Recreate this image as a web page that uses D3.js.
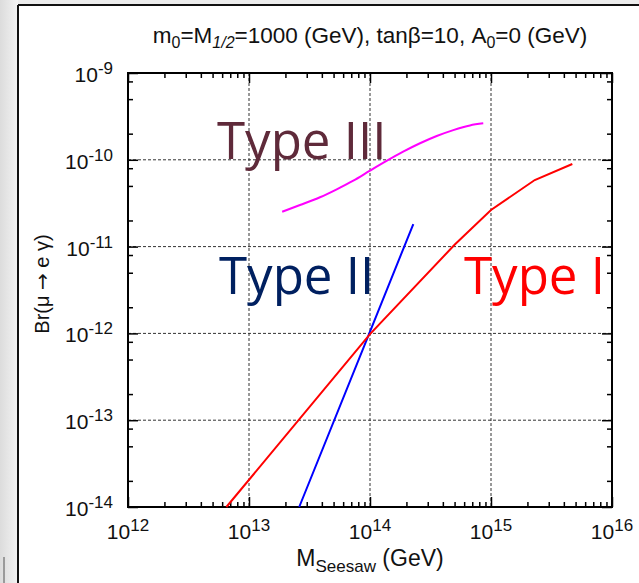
<!DOCTYPE html>
<html>
<head>
<meta charset="utf-8">
<script src="https://cdn.jsdelivr.net/npm/d3@7"></script>
<style>
  html, body { margin: 0; padding: 0; background: #fff; }
  svg { display: block; }
</style>
</head>
<body>
<div id="chart"></div>
<script>
// data (x in GeV, y = branching ratio)
const typeIX = [6.5e12, 1e14, 5e14, 1e15, 2.3e15, 4.7e15];
const typeIY = [1e-14, 9.8e-13, 1.05e-11, 2.64e-11, 5.85e-11, 8.95e-11];

const typeIIX = [2.6e13, 1e14, 2.28e14];
const typeIIY = [1e-14, 1.05e-12, 1.82e-11];

const typeIIIX = [1.88e13, 2.64e13, 3.86e13, 5.31e13, 7.28e13, 1e14, 1.37e14, 1.88e14, 2.59e14, 3.56e14, 4.88e14, 6.7e14, 8.63e14];
const typeIIIY = [2.52e-11, 3.01e-11, 3.7e-11, 4.57e-11, 5.75e-11, 7.5e-11, 9.7e-11, 1.24e-10, 1.55e-10, 1.88e-10, 2.2e-10, 2.49e-10, 2.63e-10];

const xTickExps = [12, 13, 14, 15, 16];
const yTickExps = [-9, -10, -11, -12, -13, -14];
const xMinorMult = [2, 3, 4, 5, 6, 7, 8, 9];
const yMinorMult = [2, 5, 8];

const W = 639, H = 583;
const pL = 128, pR = 612, pT = 73, pB = 507;

const svg = d3.select('#chart').append('svg')
    .attr('width', W)
    .attr('height', H)
    .style('font-family', '"Liberation Sans", Arial, sans-serif');

// slide-ish background frame
const bg = svg.append('defs').append('linearGradient').attr('id', 'side');
bg.append('stop').attr('offset', '0%').attr('stop-color', '#dcdcdc');
bg.append('stop').attr('offset', '100%').attr('stop-color', '#f3f3f3');
svg.append('rect').attr('width', W).attr('height', H).attr('fill', '#ececec');
svg.append('rect').attr('width', 18).attr('height', H).attr('fill', 'url(#side)');
svg.append('rect').attr('x', 18).attr('y', 5).attr('width', W - 18).attr('height', H - 5).attr('fill', '#fff');
svg.append('line').attr('x1', 18).attr('x2', W).attr('y1', 5).attr('y2', 5).attr('stroke', '#111').attr('stroke-width', 2);
svg.append('line').attr('x1', 18).attr('x2', 18).attr('y1', 5).attr('y2', H).attr('stroke', '#111').attr('stroke-width', 2);
svg.append('line').attr('x1', 4).attr('x2', 4).attr('y1', 557).attr('y2', H).attr('stroke', '#555').attr('stroke-width', 1);

const x = d3.scaleLog().domain([1e12, 1e16]).range([pL, pR]);
const y = d3.scaleLog().domain([1e-14, 1e-9]).range([pB, pT]);

const xMajor = xTickExps.map(e => Math.pow(10, e));
const yMajor = yTickExps.map(e => Math.pow(10, e));
const xMinor = [];
xTickExps.slice(0, -1).forEach(e => xMinorMult.forEach(m => xMinor.push(m * Math.pow(10, e))));
const yMinor = [];
yTickExps.slice(1).forEach(e => yMinorMult.forEach(m => yMinor.push(m * Math.pow(10, e))));

// grid
const grid = svg.append('g')
    .attr('stroke', '#333')
    .attr('stroke-width', 1)
    .attr('stroke-dasharray', '3,2');
grid.selectAll('.gx')
    .data(xMajor.slice(1, -1))
    .enter().append('line')
    .attr('x1', d => x(d)).attr('x2', d => x(d))
    .attr('y1', pT).attr('y2', pB);
grid.selectAll('.gy')
    .data(yMajor.slice(1, -1))
    .enter().append('line')
    .attr('x1', pL).attr('x2', pR)
    .attr('y1', d => y(d)).attr('y2', d => y(d));

// ticks on all four sides, pointing inward
function ticks(axis, vals, size, tr) {
  const g = svg.append('g')
      .attr('transform', tr)
      .call(axis.tickValues(vals).tickSize(-size).tickSizeOuter(0).tickFormat(''));
  g.select('.domain').remove();
  g.selectAll('line').attr('stroke', '#000').attr('stroke-width', 1.5);
}
ticks(d3.axisBottom(x), xMajor, 10, `translate(0,${pB})`);
ticks(d3.axisBottom(x), xMinor, 5, `translate(0,${pB})`);
ticks(d3.axisTop(x), xMajor, 10, `translate(0,${pT})`);
ticks(d3.axisTop(x), xMinor, 5, `translate(0,${pT})`);
ticks(d3.axisLeft(y), yMajor, 10, `translate(${pL},0)`);
ticks(d3.axisLeft(y), yMinor, 5, `translate(${pL},0)`);
ticks(d3.axisRight(y), yMajor, 10, `translate(${pR},0)`);
ticks(d3.axisRight(y), yMinor, 5, `translate(${pR},0)`);

svg.append('rect')
    .attr('x', pL).attr('y', pT)
    .attr('width', pR - pL).attr('height', pB - pT)
    .attr('fill', 'none').attr('stroke', '#000').attr('stroke-width', 2);

// tick labels 10^n
const xl = svg.selectAll('.xl')
    .data(xTickExps)
    .enter().append('text')
    .attr('x', d => x(Math.pow(10, d)))
    .attr('y', pB + 32)
    .attr('text-anchor', 'middle')
    .style('font-size', '21px')
    .attr('fill', '#111');
xl.append('tspan').text('10');
xl.append('tspan').attr('dy', -8).style('font-size', '17px').text(d => d);

const yl = svg.selectAll('.yl')
    .data(yTickExps)
    .enter().append('text')
    .attr('x', 113)
    .attr('y', d => y(Math.pow(10, d)) + 9)
    .attr('text-anchor', 'end')
    .style('font-size', '21px')
    .attr('fill', '#111');
yl.append('tspan').text('10');
yl.append('tspan').attr('dy', -8).style('font-size', '17px').text(d => d);

// title
const title = svg.append('text')
    .attr('x', (pL + pR) / 2)
    .attr('y', 43)
    .attr('text-anchor', 'middle')
    .style('font-size', '22.5px')
    .attr('fill', '#111');
title.append('tspan').text('m');
title.append('tspan').attr('dy', 5).style('font-size', '16px').text('0');
title.append('tspan').attr('dy', -5).text('=M');
title.append('tspan').attr('dy', 5).style('font-size', '16px').style('font-style', 'italic').text('1/2');
title.append('tspan').attr('dy', -5).text('=1000 (GeV), tanβ=10, A');
title.append('tspan').attr('dy', 5).style('font-size', '16px').text('0');
title.append('tspan').attr('dy', -5).text('=0 (GeV)');

// axis titles
const xt = svg.append('text')
    .attr('x', (pL + pR) / 2)
    .attr('y', 566)
    .attr('text-anchor', 'middle')
    .style('font-size', '23px')
    .attr('fill', '#111');
xt.append('tspan').text('M');
xt.append('tspan').attr('dy', 6).style('font-size', '17px').text('Seesaw');
xt.append('tspan').attr('dy', -6).text(' (GeV)');

const yt = svg.append('text')
    .attr('transform', `translate(49,${(pT + pB) / 2 - 6}) rotate(-90)`)
    .attr('text-anchor', 'middle')
    .style('font-size', '20px')
    .attr('fill', '#111');
yt.append('tspan').text('Br(μ ');
yt.append('tspan').style('font-family', '"DejaVu Sans", sans-serif').text('→');
yt.append('tspan').text(' e γ)');

// curves
const line = (xs, ys, curve) => d3.line()
    .x((d, i) => x(xs[i]))
    .y((d, i) => y(ys[i]))
    .curve(curve)(xs);

svg.append('path')
    .attr('d', line(typeIIIX, typeIIIY, d3.curveMonotoneX))
    .attr('fill', 'none').attr('stroke', '#ff00ff').attr('stroke-width', 2);
svg.append('path')
    .attr('d', line(typeIIX, typeIIY, d3.curveLinear))
    .attr('fill', 'none').attr('stroke', '#0000ff').attr('stroke-width', 2);
svg.append('path')
    .attr('d', line(typeIX, typeIY, d3.curveLinear))
    .attr('fill', 'none').attr('stroke', '#ff0000').attr('stroke-width', 2);

// big type labels
const labels = [
  { t: 'Type III', x: 217, y: 159, c: '#5f2a3a' },
  { t: 'Type II', x: 219, y: 294, c: '#002060' },
  { t: 'Type I', x: 464, y: 294, c: '#ff0000' }
];
svg.selectAll('.big')
    .data(labels)
    .enter().append('text')
    .attr('x', d => d.x)
    .attr('y', d => d.y)
    .attr('fill', d => d.c)
    .style('font-family', '"Open Sans", "Noto Sans", sans-serif')
    .style('font-size', '51px')
    .text(d => d.t);
</script>
</body>
</html>
